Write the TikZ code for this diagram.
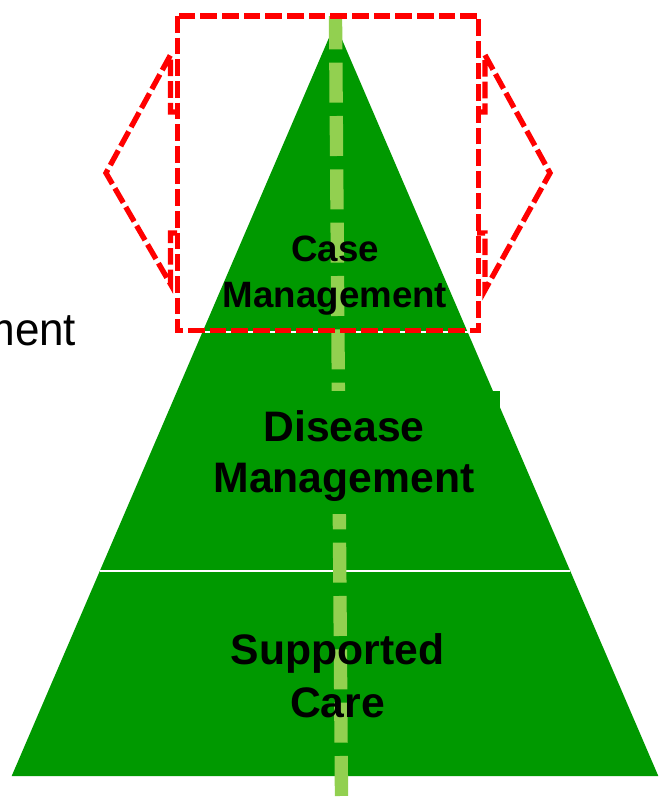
\documentclass[tikz,border=0pt]{standalone}
\usepackage{fontspec}
\setmainfont{Liberation Sans}
\usepackage{graphicx}
\definecolor{pyrgreen}{RGB}{0,153,0}
\definecolor{axisgreen}{RGB}{146,208,80}
\definecolor{markred}{RGB}{255,0,0}
\tikzset{
  tierfill/.style={fill=pyrgreen},
  tiersep/.style={draw=white, line width=1.1pt},
  axisline/.style={draw=axisgreen, line width=10pt, dash pattern=on 30pt off 10pt, dash phase=5pt},
  reddash/.style={draw=markred, line width=4pt, dash pattern=on 12.5pt off 3.75pt, line join=miter},
  tierlabel/.style={align=center, inner sep=0pt, text=black},
}
\begin{document}
\begin{tikzpicture}[x=0.75pt,y=-0.75pt]
\useasboundingbox (0,0) rectangle (664,801);

% pyramid outline points
\coordinate (apex) at (335.1,23.5);
\coordinate (l1) at (202.4,332);
\coordinate (r1) at (467.6,332);
\coordinate (l2) at (99.7,571);
\coordinate (r2) at (570.2,571);
\coordinate (bl) at (11.7,776);
\coordinate (br) at (658.3,776);

% pyramid body and tier separators
\fill[tierfill] (apex) -- (bl) -- (br) -- cycle;
\draw[tiersep] (l1) -- (r1);
\draw[tiersep] (l2) -- (r2);

% central axis
\coordinate (axtop) at (335.5,16);
\coordinate (axbot) at (341.6,810);
\draw[axisline] (axtop) -- (axbot);

% middle tier label on its own green panel
\node[fill=pyrgreen, inner sep=0pt, minimum width=234pt, minimum height=92.25pt] (dmbox) at (344,452.5) {};
\node[tierlabel, font=\bfseries\fontsize{32pt}{38.5pt}\selectfont] (dm) at (344,456.3) {Disease\\Management};

% top and bottom tier labels
\node[tierlabel, font=\bfseries\fontsize{27.5pt}{34.35pt}\selectfont] (cm) at (335,275.9) {Case\\Management};
\node[tierlabel, font=\bfseries\fontsize{32pt}{39.5pt}\selectfont] (sc) at (337.5,675.8) {Supported\\Care};

% side caption running off the left edge
\node[anchor=base east, inner sep=0pt, font=\fontsize{33pt}{38pt}\selectfont] (side) at (76.5,345) {\scalebox{1}[1.05]{Management}};

% red dashed frame around the apex
\draw[reddash] (177.5,16) rectangle (478.5,330.5);

% red dashed chevrons on both sides
\draw[reddash] (178,112) -- (170.5,112) -- (170.5,55) -- (106,173) -- (170.5,284) -- (170.5,233) -- (178,233);
\draw[reddash] (477,112) -- (485,112) -- (485,55) -- (550,173) -- (485,290) -- (485,233) -- (477,233);
\end{tikzpicture}
\end{document}
